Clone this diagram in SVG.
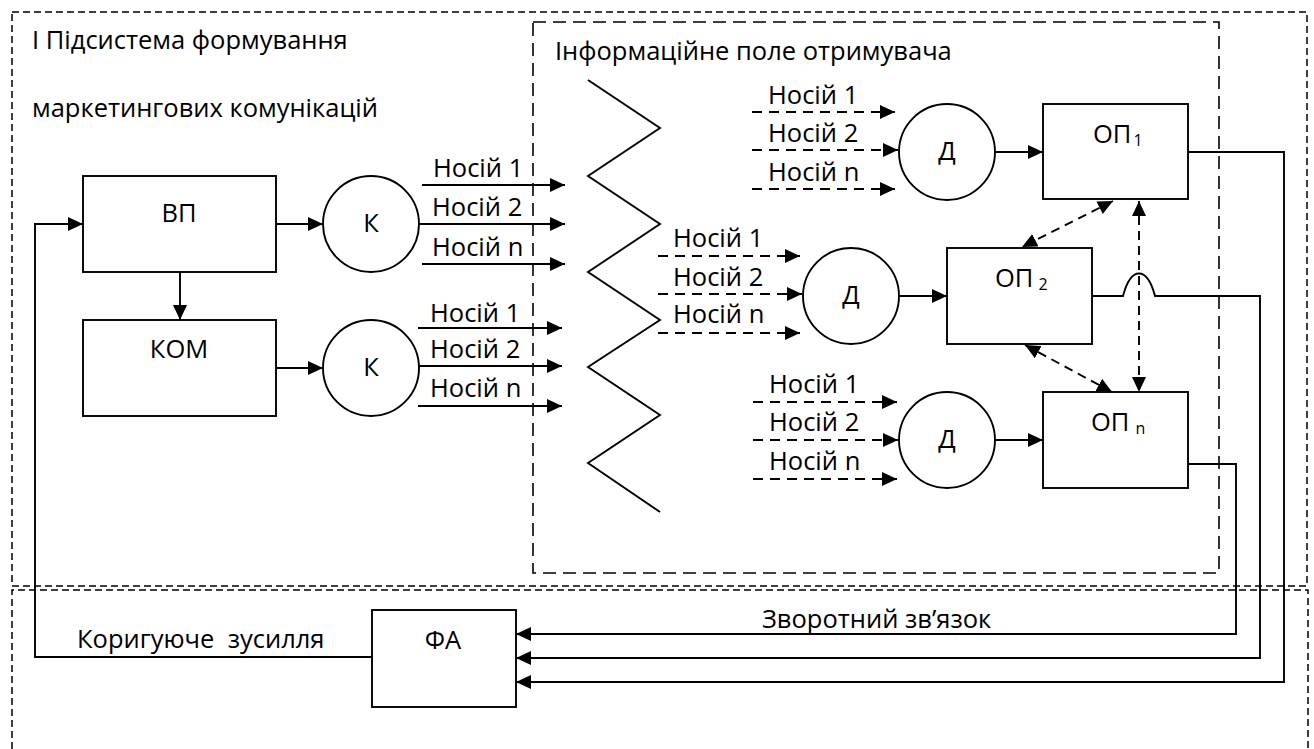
<svg xmlns="http://www.w3.org/2000/svg" width="1314" height="749" viewBox="0 0 1314 749">
<defs>
<marker id="ah" viewBox="0 0 15 14" refX="15" refY="7" markerWidth="15" markerHeight="14" markerUnits="userSpaceOnUse" orient="auto-start-reverse"><path d="M0,0 L15,7 L0,14 Z" fill="#000"/></marker>
<style>
text { font-family: "Open Sans", "Liberation Sans", sans-serif; font-size: 25.5px; fill: #000; }
.box { fill: #fff; stroke: #000; stroke-width: 1.9; }
.frame { fill: none; stroke: #000; stroke-width: 1.5; stroke-dasharray: 7 4; }
.field { fill: none; stroke: #000; stroke-width: 1.6; stroke-dasharray: 13 7; }
.ln { fill: none; stroke: #000; stroke-width: 1.9; }
.arr { marker-end: url(#ah); }
.dash { stroke-dasharray: 10 7; }
.bi { marker-start: url(#ah); marker-end: url(#ah); stroke-dasharray: 9 6; }
.c { text-anchor: middle; }
.sub { font-size: 16px; }
.pre { white-space: pre; }
</style>
</defs>
<rect x="0" y="0" width="1314" height="749" fill="#fff"/>

<g id="frames">
<rect id="subsystem-frame" x="12" y="12" width="1295" height="574" class="frame"/>
<path id="lower-frame" d="M12,760 V590 H1308 V760" class="frame"/>
<rect id="info-field" x="533" y="22" width="686" height="551" class="field"/>
<text x="32" y="49">І Підсистема формування</text>
<text x="32" y="117">маркетингових комунікацій</text>
<text x="555" y="60">Інформаційне поле отримувача</text>
</g>

<g id="zigzag">
<polyline points="588,80 660,128 588,176 660,224 588,272 660,320 588,367 660,415 588,463 660,512" class="ln"/>
</g>

<g id="connectors">
<path d="M276,224 H323" class="ln arr"/>
<path d="M276,368 H323" class="ln arr"/>
<path d="M180,272 V320" class="ln arr"/>
<path d="M422,185 H565" class="ln arr"/>
<path d="M419,224 H565" class="ln arr"/>
<path d="M422,264 H565" class="ln arr"/>
<path d="M418,328 H562" class="ln arr"/>
<path d="M419,366 H562" class="ln arr"/>
<path d="M418,406 H562" class="ln arr"/>
<path d="M752,112 H895" class="ln dash arr"/>
<path d="M752,150 H898" class="ln dash arr"/>
<path d="M752,189 H895" class="ln dash arr"/>
<path d="M658,256 H800" class="ln dash arr"/>
<path d="M658,294 H802" class="ln dash arr"/>
<path d="M658,333 H800" class="ln dash arr"/>
<path d="M753,402 H897" class="ln dash arr"/>
<path d="M753,440 H898" class="ln dash arr"/>
<path d="M753,479 H897" class="ln dash arr"/>
<path d="M996,152 H1043" class="ln arr"/>
<path d="M899,296 H947" class="ln arr"/>
<path d="M996,440 H1043" class="ln arr"/>
<path d="M1113,201 L1022,247" class="ln bi"/>
<path d="M1139,201 V392" class="ln bi"/>
<path d="M1025,345 L1112,392" class="ln bi"/>
<path d="M1188,152 H1284 V682 H516" class="ln arr"/>
<path d="M1092,296 H1123 C1131,266 1147,266 1155,296 H1260 V658 H516" class="ln arr"/>
<path d="M1188,464 H1236 V634 H516" class="ln arr"/>
<path d="M372,657 H35 V224 H83" class="ln arr"/>
<text x="433" y="177">Носій 1</text>
<text x="432" y="216">Носій 2</text>
<text x="432" y="256">Носій n</text>
<text x="430" y="322">Носій 1</text>
<text x="430" y="358">Носій 2</text>
<text x="430" y="397">Носій n</text>
<text x="768" y="104">Носій 1</text>
<text x="768" y="142">Носій 2</text>
<text x="768" y="181">Носій n</text>
<text x="673" y="247">Носій 1</text>
<text x="673" y="286">Носій 2</text>
<text x="673" y="323">Носій n</text>
<text x="769" y="393">Носій 1</text>
<text x="769" y="431">Носій 2</text>
<text x="769" y="470">Носій n</text>
<text x="762" y="628">Зворотний зв’язок</text>
<text x="77" y="648" class="pre">Коригуюче  зусилля</text>
</g>

<g id="vp"><rect x="83" y="176" width="193" height="96" class="box"/><text x="179" y="222" class="c">ВП</text></g>
<g id="kom"><rect x="83" y="320" width="193" height="96" class="box"/><text x="179" y="358" class="c">КОМ</text></g>
<g id="k1"><circle cx="371" cy="224" r="48" class="box"/><text x="371" y="232" class="c">К</text></g>
<g id="k2"><circle cx="371" cy="368" r="48" class="box"/><text x="371" y="376" class="c">К</text></g>
<g id="d1"><circle cx="947" cy="152" r="48" class="box"/><text x="947" y="160" class="c">Д</text></g>
<g id="d2"><circle cx="851" cy="296" r="48" class="box"/><text x="851" y="304" class="c">Д</text></g>
<g id="d3"><circle cx="947" cy="440" r="48" class="box"/><text x="947" y="448" class="c">Д</text></g>
<g id="op1"><rect x="1043" y="104" width="145" height="95" class="box"/><text x="1093" y="143">ОП<tspan class="sub" dx="2" dy="3">1</tspan></text></g>
<g id="op2"><rect x="947" y="248" width="145" height="96" class="box"/><text x="995" y="287">ОП<tspan class="sub" dx="5" dy="3">2</tspan></text></g>
<g id="opn"><rect x="1043" y="392" width="145" height="96" class="box"/><text x="1091" y="431">ОП<tspan class="sub" dx="6" dy="3">n</tspan></text></g>
<g id="fa"><rect x="372" y="610" width="144" height="97" class="box"/><text x="443" y="649" class="c">ФА</text></g>
</svg>
